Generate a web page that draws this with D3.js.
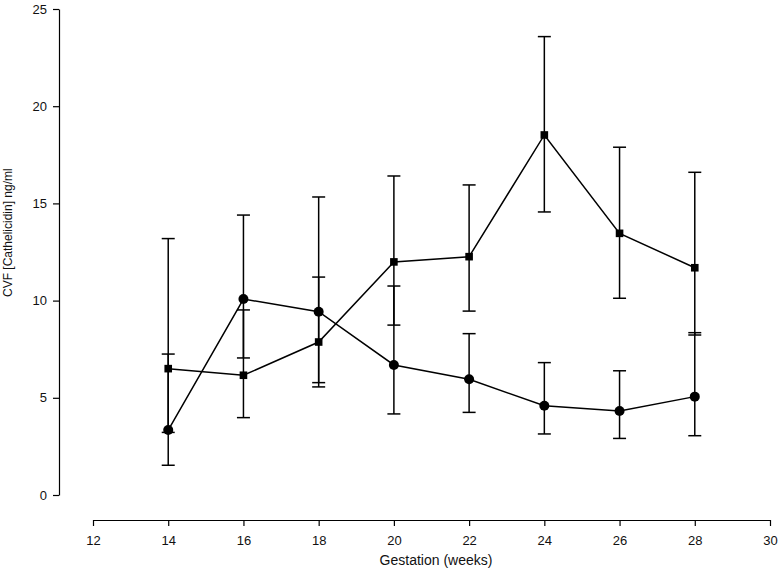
<!DOCTYPE html>
<html>
<head>
<meta charset="utf-8">
<script src="https://cdn.jsdelivr.net/npm/d3@7"></script>
<style>
  html, body { margin: 0; padding: 0; background: #fff; }
  svg { display: block; font-family: "Liberation Sans", Arial, sans-serif; }
</style>
</head>
<body>
<svg id="chart" width="780" height="581"></svg>
<script>
// Data
const weeks = [14, 16, 18, 20, 22, 24, 26, 28];
const squareMean  = [6.50, 6.16, 7.87, 11.99, 12.26, 18.52, 13.46, 11.69];
const squareUpper = [13.19, 9.52, 11.21, 16.41, 15.95, 23.58, 17.89, 16.60];
const squareLower = [3.22, 3.98, 5.78, 8.74, 9.46, 14.56, 10.12, 8.23];
const circleMean  = [3.34, 10.08, 9.43, 6.69, 5.95, 4.59, 4.32, 5.06];
const circleUpper = [7.25, 14.40, 15.33, 10.75, 8.30, 6.81, 6.39, 8.35];
const circleLower = [1.53, 7.05, 5.56, 4.17, 4.25, 3.14, 2.91, 3.05];
const xTicks = [12, 14, 16, 18, 20, 22, 24, 26, 28, 30];
const yTicks = [0, 5, 10, 15, 20, 25];
const xTitle = "Gestation (weeks)";
const yTitle = "CVF [Cathelicidin] ng/ml";

const svg = d3.select("#chart");
const x = d3.scaleLinear().domain([12, 30]).range([93, 770]);
const y = d3.scaleLinear().domain([0, 25]).range([495, 9]);

// Y axis
const yAxisG = svg.append("g")
  .attr("transform", "translate(59,0)")
  .call(d3.axisLeft(y).tickValues(yTicks).tickSize(6).tickPadding(6).tickSizeOuter(0));
yAxisG.select(".domain").attr("stroke", "#000").attr("stroke-width", 1.2);
yAxisG.selectAll(".tick line").attr("stroke", "#000").attr("stroke-width", 1.2);
yAxisG.selectAll(".tick text").attr("font-size", 13).attr("fill", "#111")
  .attr("font-family", "Liberation Sans, Arial, sans-serif");

// X axis
const xAxisG = svg.append("g")
  .attr("transform", "translate(0,520)")
  .call(d3.axisBottom(x).tickValues(xTicks).tickSize(6).tickPadding(10).tickSizeOuter(0));
xAxisG.select(".domain").attr("stroke", "#000").attr("stroke-width", 1.2);
xAxisG.selectAll(".tick line").attr("stroke", "#000").attr("stroke-width", 1.2);
xAxisG.selectAll(".tick text").attr("font-size", 13).attr("fill", "#111")
  .attr("font-family", "Liberation Sans, Arial, sans-serif");

// Titles
svg.append("text")
  .attr("x", 436).attr("y", 565)
  .attr("text-anchor", "middle").attr("font-size", 14).attr("fill", "#111")
  .text(xTitle);
svg.append("text")
  .attr("transform", "translate(12,297) rotate(-90)")
  .attr("text-anchor", "start").attr("font-size", 12).attr("fill", "#111")
  .text(yTitle);

function drawSeries(mean, upper, lower, shape) {
  const data = weeks.map((w, i) => ({ w, m: mean[i], u: upper[i], l: lower[i] }));
  const g = svg.append("g");
  // error bars
  const eb = g.selectAll("g.eb").data(data).enter().append("g");
  eb.append("line")
    .attr("x1", d => x(d.w)).attr("x2", d => x(d.w))
    .attr("y1", d => y(d.u)).attr("y2", d => y(d.l))
    .attr("stroke", "#000").attr("stroke-width", 1.5);
  eb.append("line")
    .attr("x1", d => x(d.w) - 6.5).attr("x2", d => x(d.w) + 6.5)
    .attr("y1", d => y(d.u)).attr("y2", d => y(d.u))
    .attr("stroke", "#000").attr("stroke-width", 1.5);
  eb.append("line")
    .attr("x1", d => x(d.w) - 6.5).attr("x2", d => x(d.w) + 6.5)
    .attr("y1", d => y(d.l)).attr("y2", d => y(d.l))
    .attr("stroke", "#000").attr("stroke-width", 1.5);
  // line
  g.append("path").datum(data)
    .attr("fill", "none").attr("stroke", "#000").attr("stroke-width", 1.5)
    .attr("d", d3.line().x(d => x(d.w)).y(d => y(d.m)));
  // markers
  if (shape === "circle") {
    g.selectAll("circle").data(data).enter().append("circle")
      .attr("cx", d => x(d.w)).attr("cy", d => y(d.m)).attr("r", 5)
      .attr("fill", "#000");
  } else {
    g.selectAll("rect").data(data).enter().append("rect")
      .attr("x", d => x(d.w) - 3.8).attr("y", d => y(d.m) - 3.8)
      .attr("width", 7.6).attr("height", 7.6).attr("fill", "#000");
  }
}

drawSeries(squareMean, squareUpper, squareLower, "square");
drawSeries(circleMean, circleUpper, circleLower, "circle");
</script>
</body>
</html>
